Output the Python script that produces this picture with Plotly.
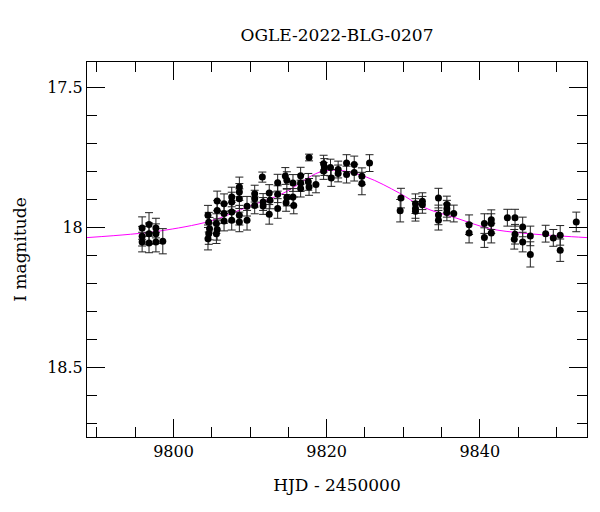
import plotly.graph_objects as go

# Observed photometry (HJD - 2450000, I magnitude, error)
hjd = [
    9795.9, 9795.9, 9795.9, 9796.8, 9796.8, 9796.8, 9797.7, 9797.7, 9797.7, 9798.6,
    9804.5, 9804.6, 9804.7, 9804.6, 9804.5,
    9805.7, 9805.7, 9805.6, 9805.7, 9805.6,
    9806.6, 9806.6, 9806.6,
    9807.6, 9807.6, 9807.6, 9807.6,
    9808.6, 9808.6, 9808.6, 9808.6, 9808.6,
    9809.6, 9809.6,
    9810.6, 9810.6, 9810.6,
    9811.6, 9811.7, 9811.7,
    9812.5, 9812.6, 9812.5,
    9813.6, 9813.6, 9813.6,
    9814.6, 9814.8, 9814.7, 9814.8,
    9815.6, 9815.6, 9815.7,
    9816.6, 9816.6, 9816.6,
    9817.6, 9817.7, 9817.7,
    9818.6,
    9819.6, 9819.7, 9819.6,
    9820.5, 9820.6,
    9821.5, 9821.5,
    9822.6, 9822.6,
    9823.6, 9823.6,
    9824.6, 9824.6,
    9825.6,
    9829.7, 9829.6,
    9831.6, 9831.6, 9831.6,
    9832.5, 9832.5,
    9834.6, 9834.6, 9834.6,
    9835.7, 9835.7, 9835.7,
    9836.6,
    9838.6, 9838.6,
    9840.6, 9840.6,
    9841.5, 9841.5, 9841.5,
    9843.6,
    9844.6, 9844.6, 9844.5,
    9845.6, 9845.6,
    9846.6, 9846.6,
    9848.6,
    9849.6,
    9850.5, 9850.5,
    9852.6,
]
mag = [
    18.001, 18.030, 18.051, 17.988, 18.021, 18.054, 18.001, 18.021, 18.051, 18.048,
    17.955, 17.980, 18.003, 18.021, 18.039,
    17.904, 17.938, 17.985, 18.006, 18.021,
    17.914, 17.949, 17.976,
    17.890, 17.908, 17.944, 17.973,
    17.854, 17.872, 17.896, 17.955, 17.979,
    17.923, 17.973,
    17.878, 17.896, 17.920,
    17.819, 17.908, 17.922,
    17.876, 17.902, 17.952,
    17.839, 17.880, 17.931,
    17.815, 17.830, 17.911, 17.892,
    17.840, 17.890, 17.920,
    17.814, 17.840, 17.860,
    17.836, 17.854, 17.749,
    17.845,
    17.771, 17.783, 17.797,
    17.785, 17.822,
    17.792, 17.806,
    17.769, 17.810,
    17.774, 17.803,
    17.816, 17.842,
    17.769,
    17.894, 17.939,
    17.914, 17.931, 17.941,
    17.905, 17.918,
    17.894, 17.954, 17.973,
    17.917, 17.932, 17.945,
    17.949,
    17.989, 18.019,
    17.985, 18.035,
    17.971, 17.985, 18.019,
    17.964,
    17.964, 18.023, 18.041,
    17.997, 18.051,
    18.029, 18.095,
    18.021,
    18.036,
    18.027, 18.080,
    17.979,
]
err = [
    0.040, 0.035, 0.035, 0.042, 0.038, 0.035, 0.035, 0.035, 0.035, 0.045,
    0.035, 0.035, 0.040, 0.038, 0.040,
    0.035, 0.035, 0.035, 0.038, 0.035,
    0.035, 0.035, 0.035,
    0.035, 0.035, 0.035, 0.035,
    0.035, 0.030, 0.035, 0.035, 0.035,
    0.035, 0.035,
    0.030, 0.030, 0.030,
    0.018, 0.030, 0.030,
    0.030, 0.030, 0.035,
    0.030, 0.030, 0.035,
    0.030, 0.030, 0.030, 0.030,
    0.030, 0.030, 0.030,
    0.030, 0.030, 0.030,
    0.030, 0.030, 0.012,
    0.030,
    0.030, 0.030, 0.030,
    0.030, 0.030,
    0.030, 0.030,
    0.030, 0.030,
    0.030, 0.030,
    0.030, 0.040,
    0.030,
    0.035, 0.040,
    0.035, 0.035, 0.035,
    0.030, 0.030,
    0.035, 0.035, 0.035,
    0.030, 0.030, 0.030,
    0.030,
    0.035, 0.035,
    0.035, 0.035,
    0.035, 0.035, 0.035,
    0.030,
    0.030, 0.035, 0.035,
    0.035, 0.035,
    0.035, 0.045,
    0.030,
    0.030,
    0.035, 0.040,
    0.035,
]

# Model curve
model_hjd = [9788.7, 9794.4, 9798.3, 9804.8, 9810.0, 9814.3, 9819.1, 9821.7,
             9825.2, 9829.5, 9832.6, 9837.0, 9841.3, 9845.6, 9850.4, 9854.0]
model_mag = [18.035, 18.023, 18.011, 17.976, 17.922, 17.877, 17.801, 17.795,
             17.819, 17.876, 17.926, 17.966, 18.003, 18.019, 18.029, 18.035]

FONT = "DejaVu Serif"

fig = go.Figure()
fig.add_trace(go.Scatter(
    x=model_hjd, y=model_mag, mode="lines", line=dict(color="#ff00ff", width=1, shape="spline"),
    hoverinfo="skip", showlegend=False,
))
fig.add_trace(go.Scatter(
    x=hjd, y=mag, mode="markers",
    marker=dict(color="black", size=7),
    error_y=dict(type="data", array=err, visible=True, color="#222222", thickness=1, width=4),
    showlegend=False,
))

axis_common = dict(
    showline=True, linecolor="black", linewidth=1, mirror="allticks",
    ticks="inside", ticklen=18, tickcolor="black", tickwidth=1,
    showgrid=False, zeroline=False,
    tickfont=dict(family=FONT, size=16, color="black"),
)

fig.update_xaxes(
    range=[9788.7, 9854.0], tick0=9800, dtick=20, tickformat="d",
    minor=dict(ticks="inside", ticklen=10, dtick=5, tick0=9800, tickcolor="black", showgrid=False),
    title=dict(text="HJD - 2450000", font=dict(family=FONT, size=17, color="black"), standoff=18),
    **axis_common,
)
fig.update_yaxes(
    range=[18.747, 17.408], tick0=17.5, dtick=0.5,
    minor=dict(ticks="inside", ticklen=10, dtick=0.1, tick0=17.5, tickcolor="black", showgrid=False),
    title=dict(text="I magnitude", font=dict(family=FONT, size=17, color="black"), standoff=16),
    **axis_common,
)

fig.update_layout(
    width=600, height=512,
    margin=dict(l=87, r=13, t=62, b=75),
    paper_bgcolor="white", plot_bgcolor="white",
    title=dict(text="OGLE-2022-BLG-0207", x=0.5, xref="paper", y=1 - 35 / 512, yref="container",
               yanchor="middle", font=dict(family=FONT, size=17, color="black")),
)

fig.write_html("out.html")
